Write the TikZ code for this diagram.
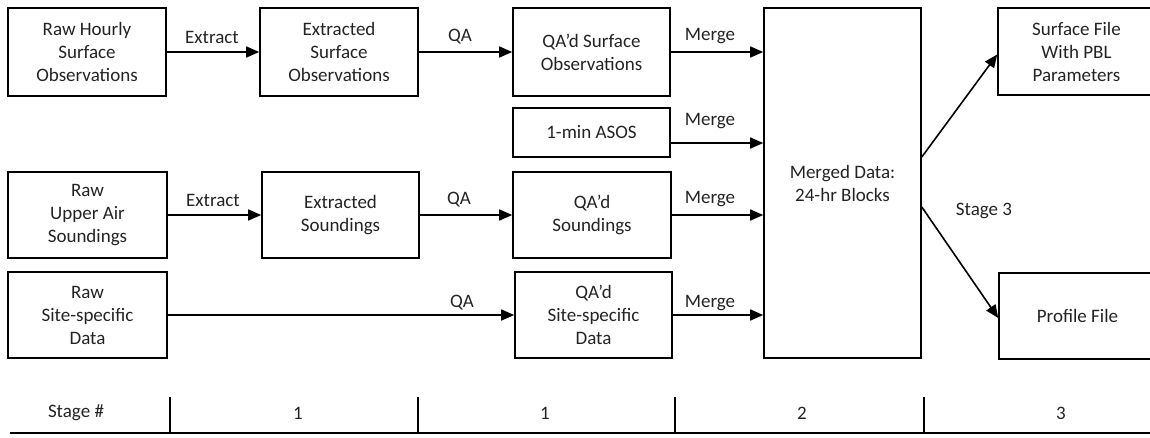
\documentclass[tikz,border=0pt]{standalone}
\usepackage{fontspec}
\setmainfont{Carlito}
\usetikzlibrary{arrows.meta}
\definecolor{ink}{RGB}{35,35,35}
\begin{document}
\begin{tikzpicture}[x=1pt,y=-1pt,
  every node/.style={font=\fontsize{19}{23}\selectfont, text=ink},
  procbox/.style={draw=black, line width=1.6pt, align=center, inner sep=0pt},
  arr/.style={draw=black, line width=1.6pt, -{Triangle[length=13pt,width=11pt]}},
  lbl/.style={inner sep=0pt},
  tick/.style={draw=black, line width=1.8pt}]
\useasboundingbox (0,0) rectangle (1150,437);

% --- row 1: surface observations
\node[procbox, minimum width=158pt, minimum height=88pt] (rawsfc) at (87,52) {Raw Hourly\\Surface\\Observations};
\node[procbox, minimum width=158pt, minimum height=88pt] (extsfc) at (339,52) {Extracted\\Surface\\Observations};
\node[procbox, minimum width=157pt, minimum height=88pt] (qasfc) at (591.5,52) {QA’d Surface\\Observations};
\node[procbox, minimum width=157pt, minimum height=49pt] (asos) at (591.5,132.5) {1-min ASOS};

% --- row 2: upper air soundings
\node[procbox, minimum width=159pt, minimum height=86pt] (rawua) at (87.5,215) {Raw\\Upper Air\\Soundings};
\node[procbox, minimum width=157pt, minimum height=86pt] (extua) at (340.5,215) {Extracted\\Soundings};
\node[procbox, minimum width=158pt, minimum height=86pt] (qaua) at (592,215) {QA’d\\Soundings};

% --- row 3: site-specific data
\node[procbox, minimum width=159pt, minimum height=86pt] (rawsite) at (87.5,315) {Raw\\Site-specific\\Data};
\node[procbox, minimum width=157pt, minimum height=86pt] (qasite) at (593.5,315) {QA’d\\Site-specific\\Data};

% --- merged data and outputs
\node[procbox, minimum width=157pt, minimum height=350pt] (merged) at (842.5,183) {Merged Data:\\24-hr Blocks};
\node[procbox, minimum width=157pt, minimum height=87pt] (sfcfile) at (1076.5,51.5) {Surface File\\With PBL\\Parameters};
\node[procbox, minimum width=157pt, minimum height=86pt] (proffile) at (1077.5,316) {Profile File};

% --- connectors
\draw[arr] (rawsfc.east) -- (extsfc.west);
\draw[arr] (extsfc.east) -- (qasfc.west);
\draw[arr] (qasfc.east) -- (qasfc.east -| merged.west);
\coordinate (asosout) at ([yshift=-10.5pt]asos.east);
\draw[arr] (asosout) -- (asosout -| merged.west);
\draw[arr] (rawua.east) -- (extua.west);
\draw[arr] (extua.east) -- (qaua.west);
\draw[arr] (qaua.east) -- (qaua.east -| merged.west);
\draw[arr] (rawsite.east) -- (qasite.west);
\draw[arr] (qasite.east) -- (qasite.east -| merged.west);
\coordinate (mout1) at ([yshift=26pt]merged.east);
\coordinate (mout2) at ([yshift=-24pt]merged.east);
\draw[arr] (mout1) -- ([yshift=-3pt]sfcfile.west);
\draw[arr] (mout2) -- ([yshift=-2pt]proffile.west);

% --- connector labels
\node[lbl] (l1) at (212,37) {Extract};
\node[lbl] (l2) at (460,37) {QA};
\node[lbl] (l3) at (710,36) {Merge};
\node[lbl] (l4) at (710,121) {Merge};
\node[lbl] (l5) at (213,200) {Extract};
\node[lbl] (l6) at (459,200) {QA};
\node[lbl] (l7) at (710,199) {Merge};
\node[lbl] (l8) at (462,303) {QA};
\node[lbl] (l9) at (710,303) {Merge};
\node[lbl] (l10) at (984,211) {Stage 3};

% --- stage scale
\coordinate (bl) at (10,433);
\coordinate (br) at (1152,433);
\draw[draw=black, line width=2.4pt] (bl) -- (br);
\foreach \tx/\tn in {170/t1, 418/t2, 675/t3, 924/t4} {
  \coordinate (\tn) at (\tx,397);
  \draw[tick] (\tn) -- (\tn |- bl);
}
\node[lbl] (s0) at (76,413) {Stage \#};
\node[lbl] (s1) at (298,413) {1};
\node[lbl] (s2) at (545,413) {1};
\node[lbl] (s3) at (802,413) {2};
\node[lbl] (s4) at (1061,413) {3};
\end{tikzpicture}
\end{document}
